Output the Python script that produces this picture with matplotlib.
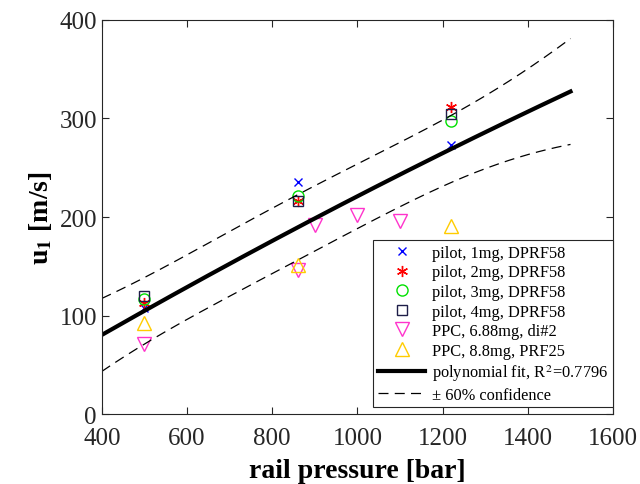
import matplotlib
matplotlib.use('Agg')
import matplotlib.pyplot as plt
import numpy as np

plt.rcParams['font.family'] = ['Liberation Serif', 'DejaVu Serif']
plt.rcParams['mathtext.fontset'] = 'stix'

# data
p1_x = [500, 860, 1220]
p1_y = [108, 236, 273]
p2_x = [500, 860, 1220]
p2_y = [113, 216, 312]
p3_x = [500, 860, 1220]
p3_y = [117, 221, 297]
p4_x = [500, 860, 1220]
p4_y = [120, 216, 304]
ppc1_x = [500, 860, 900, 1000, 1100]
ppc1_y = [71, 146, 192, 202, 196]
ppc2_x = [500, 860, 1220]
ppc2_y = [92, 151, 191]

labels = ['pilot, 1mg, DPRF58', 'pilot, 2mg, DPRF58', 'pilot, 3mg, DPRF58',
          'pilot, 4mg, DPRF58', 'PPC, 6.88mg, di#2', 'PPC, 8.8mg, PRF25']

# quadratic fit with 60% prediction bounds
xa = np.array(p1_x + p2_x + p3_x + p4_x + ppc1_x + ppc2_x, dtype=float)
ya = np.array(p1_y + p2_y + p3_y + p4_y + ppc1_y + ppc2_y, dtype=float)
deg = 2
X = np.vander(xa, deg + 1)
coef, res, rk, sv = np.linalg.lstsq(X, ya, rcond=None)
dof = len(xa) - (deg + 1)
s = np.sqrt(np.sum((ya - X @ coef) ** 2) / dof)
t60 = 0.863  # t quantile, 60% two sided, 17 dof
xf = np.linspace(400, 1500, 200)
Xf = np.vander(xf, deg + 1)
yf = Xf @ coef
XtXi = np.linalg.inv(X.T @ X)
half = t60 * s * np.sqrt(1 + np.sum((Xf @ XtXi) * Xf, axis=1))

fig = plt.figure(figsize=(6.4, 4.85), dpi=100)
ax = fig.add_axes([0.159, 0.144, 0.799, 0.813])

ax.plot(p1_x, p1_y, 'x', color='blue', ms=6, mew=1, label=labels[0])
ax.plot(p2_x, p2_y, marker=(6, 2, 0), ls='none', color='red', ms=8, mew=1, label=labels[1])
ax.plot(p3_x, p3_y, 'o', color='#00e000', ms=8, mfc='none', mew=1, label=labels[2])
ax.plot(p4_x, p4_y, 's', color='#1e1e48', ms=7, mfc='none', mew=1, label=labels[3])
ax.plot(ppc1_x, ppc1_y, 'v', color='#ff33cc', ms=10, mfc='none', mew=1, label=labels[4])
ax.plot(ppc2_x, ppc2_y, '^', color='#ffcc00', ms=10, mfc='none', mew=1, label=labels[5])
ax.plot(xf, yf, '-', color='black', lw=3, label='polynomial fit, R$^{\\,2}$=0.7796')
ax.plot(xf, yf + half, '--', color='black', lw=0.9, dashes=(8, 5), label='\u00b1 60% confidence')
ax.plot(xf, yf - half, '--', color='black', lw=0.9, dashes=(8, 5))

ax.set_xlim(400, 1600)
ax.set_ylim(0, 400)
ax.set_xticks(np.arange(400, 1601, 200))
ax.set_yticks(np.arange(0, 401, 100))
ax.tick_params(direction='in', top=True, right=True, labelsize=18, length=5, width=0.8, colors='#262626')
ax.tick_params(axis='x', pad=9)
for sp in ax.spines.values():
    sp.set_linewidth(0.8)
    sp.set_color('#262626')
ax.set_xlabel('rail pressure [bar]', fontsize=20, fontweight='bold', labelpad=7)
ax.set_ylabel('u$_\\mathbf{1}$ [m/s]', fontsize=20, fontweight='bold', labelpad=4)

leg = ax.legend(loc='lower right', bbox_to_anchor=(1.0, 0.017), fontsize=11.8, fancybox=False,
                edgecolor='#262626', framealpha=1, borderaxespad=0, handlelength=2.9,
                labelspacing=0.22, handletextpad=0.4, borderpad=0.3)
leg.get_frame().set_linewidth(0.8)

fig.savefig('out.png', dpi=100)
